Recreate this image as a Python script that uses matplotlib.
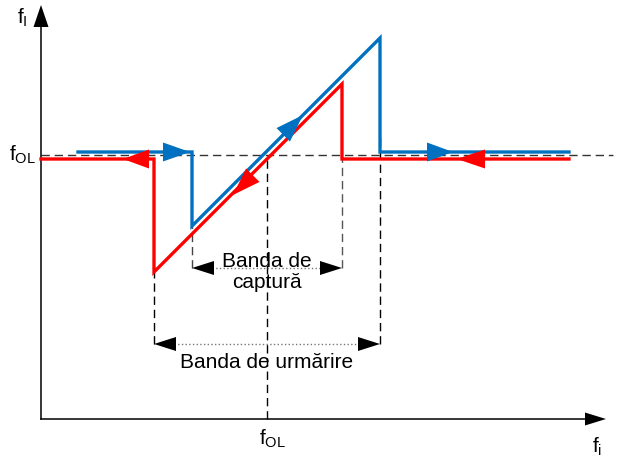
import numpy as np
import matplotlib
matplotlib.use("Agg")
import matplotlib.pyplot as plt
from matplotlib.patches import Polygon

plt.rcParams['font.family'] = ['Liberation Sans', 'DejaVu Sans']
plt.rcParams['mathtext.default'] = 'regular'

# diagram values, origin at the corner of the axes
f_ol_x = 226
f_ol_y = 264
blue_x = [37, 151, 151, 339, 339, 528]
blue_y = [267, 267, 193, 381, 267, 267]
red_x = [0, 113, 113, 301, 301, 528]
red_y = [260, 260, 147, 335, 260, 260]
capture_band = [151, 301]
tracking_band = [113, 339]
capture_level = 151
tracking_level = 75
x_end = 565
y_end = 414

BLUE = '#0070C0'
RED = '#FF0000'

fig = plt.figure(figsize=(6.17, 4.59), dpi=100)
ax = fig.add_axes([0, 0, 1, 1])
ax.set_xlim(-41, 576)
ax.set_ylim(-40, 419)
ax.axis('off')


def tri(tip, d, length, width, color, z=5):
    d = np.array(d, float)
    d /= np.linalg.norm(d)
    n = np.array([-d[1], d[0]])
    tip = np.array(tip, float)
    base = tip - d * length
    pts = [tip, base + n * width / 2, base - n * width / 2]
    ax.add_patch(Polygon(pts, closed=True, fc=color, ec='none', zorder=z))


# axes with arrows
ax.plot([0, 0], [0, y_end - 20], color='black', lw=1.1, zorder=2)
ax.plot([0, x_end - 20], [0, 0], color='black', lw=1.1, zorder=2)
tri((0, y_end), (0, 1), 22, 15, 'black')
tri((x_end, 0), (1, 0), 21, 13, 'black')

# dashed guides
dash = (0, (6, 3.5))
ax.plot([0, 572], [f_ol_y, f_ol_y], color='#333333', lw=1, ls=dash, zorder=1)
ax.plot([f_ol_x, f_ol_x], [0, f_ol_y], color='black', lw=1, ls=dash, zorder=1)
ax.plot([tracking_band[0]] * 2, [tracking_level, red_y[2]], color='black', lw=1, ls=dash, zorder=1)
ax.plot([tracking_band[1]] * 2, [tracking_level, 282], color='black', lw=1, ls=dash, zorder=1)
ax.plot([capture_band[0]] * 2, [capture_level, blue_y[2]], color='#444444', lw=1, ls=dash, zorder=1)
ax.plot([capture_band[1]] * 2, [capture_level, red_y[4]], color='#555555', lw=1, ls=dash, zorder=1)

# band arrows
for band, lvl in [(capture_band, capture_level), (tracking_band, tracking_level)]:
    ax.plot([band[0] + 20, band[1] - 20], [lvl, lvl], color='#777777', lw=1, ls=':', zorder=2)
    tri((band[0], lvl), (-1, 0), 22, 14, 'black')
    tri((band[1], lvl), (1, 0), 22, 14, 'black')

# characteristic curves
ax.plot(red_x, red_y, color=RED, lw=2.4, solid_joinstyle='miter', zorder=3)
ax.plot(blue_x, blue_y, color=BLUE, lw=2.4, solid_joinstyle='miter', zorder=3)

tri((149, blue_y[0]), (1, 0), 27, 19, BLUE)
tri((82, red_y[0]), (-1, 0), 26, 19, RED)
tri((262, 304), (1, 1), 28, 19, BLUE)
tri((192, 224), (-1, -1), 28, 19, RED)
tri((412, blue_y[-1]), (1, 0), 26, 19, BLUE)
tri((416, red_y[-1]), (-1, 0), 28, 19, RED, z=6)

# text
ax.text(f_ol_x, 147, 'Banda de\ncaptură', ha='center', va='center', fontsize=15,
        linespacing=1.15, zorder=4)
ax.text(f_ol_x, 57, 'Banda de urmărire', ha='center', va='center', fontsize=15, zorder=4)
ax.text(f_ol_x + 6, -20, r'$f_{OL}$', ha='center', va='center', fontsize=15)
ax.text(-18, f_ol_y, r'$f_{OL}$', ha='center', va='center', fontsize=15)
ax.text(-19, 401, r'$f_{I}$', ha='center', va='center', fontsize=15)
ax.text(556, -28, r'$f_{i}$', ha='center', va='center', fontsize=15)

fig.savefig('out.png', dpi=100)
